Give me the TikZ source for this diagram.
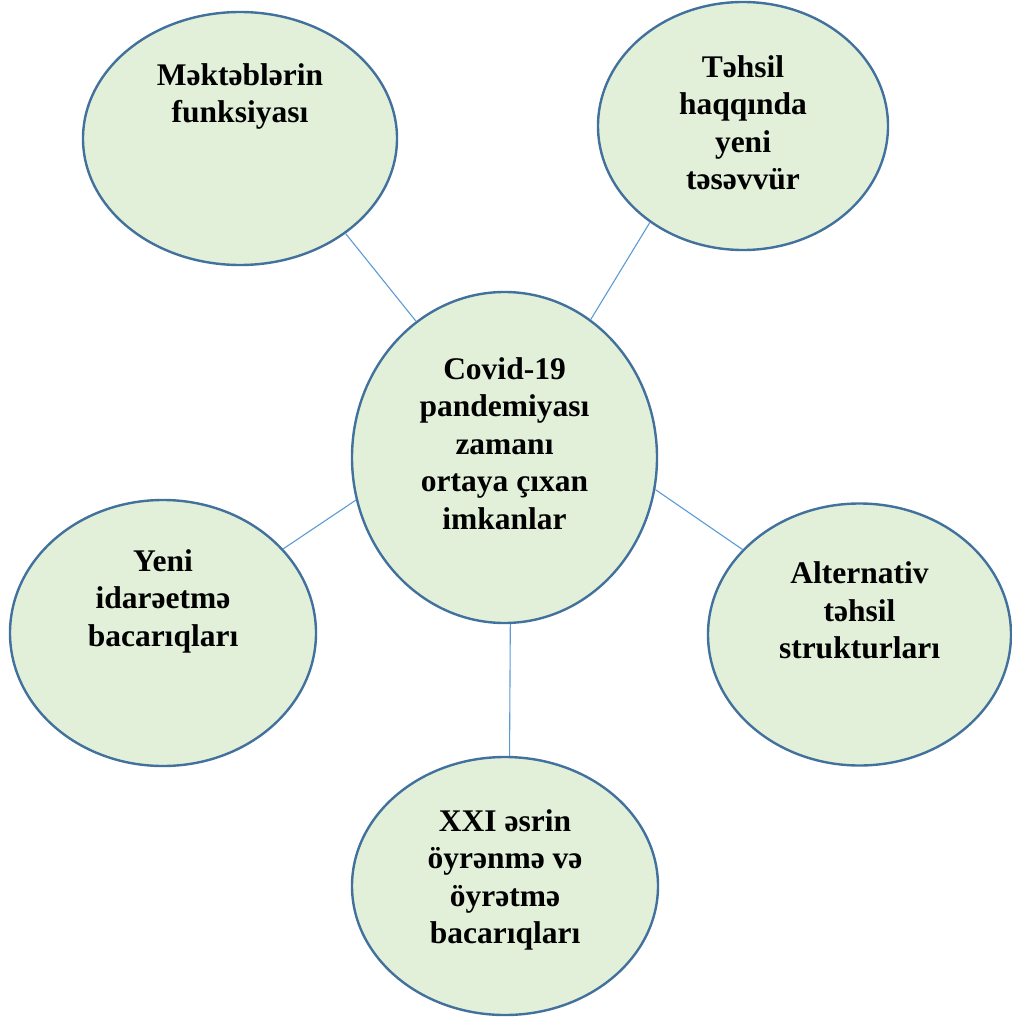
\documentclass[tikz,border=0pt]{standalone}
\usepackage{fontspec}
\setmainfont{Liberation Serif}
\usepackage{xcolor}
\usetikzlibrary{shapes.geometric}
\definecolor{bubblefill}{HTML}{E2F0D9}
\definecolor{bubbleline}{HTML}{41719C}
\definecolor{spoke}{HTML}{5B9BD5}

\begin{document}
\begin{tikzpicture}[x=1pt,y=1pt]
\tikzstyle{bubble} = [ellipse,fill=bubblefill,draw=bubbleline,line width=2.4pt,inner sep=0pt];
\tikzstyle{txt} = [align=center,font=\fontsize{31.5}{37.5}\selectfont\bfseries];
\tikzstyle{link} = [draw=spoke,line width=1.1pt];

    \useasboundingbox (0,0) rectangle (1011,-1019);

    % bubbles
    \node (c)  at (504.5,-457.5) [bubble, minimum width=305, minimum height=331] {};
    \node (tl) at (240,-138.5)   [bubble, minimum width=314, minimum height=253] {};
    \node (tr) at (743,-126)     [bubble, minimum width=290, minimum height=248] {};
    \node (l)  at (163,-633)     [bubble, minimum width=306, minimum height=266] {};
    \node (r)  at (859.5,-634.5) [bubble, minimum width=303, minimum height=262] {};
    \node (b)  at (505,-886)     [bubble, minimum width=306, minimum height=258] {};

    % texts
    \node (ct)  at ([yshift=14]c.center)  [txt] {Covid-19\\pandemiyası\\zamanı\\ortaya çıxan\\imkanlar};
    \node (tlt) at ([yshift=42]tl.center) [txt] {Məktəblərin\\funksiyası};
    \node (trt) at ([yshift=3]tr.center)  [txt] {Təhsil\\haqqında\\yeni\\təsəvvür};
    \node (lt)  at ([yshift=32]l.center)  [txt] {Yeni\\idarəetmə\\bacarıqları};
    \node (rt)  at ([yshift=24]r.center)  [txt] {Alternativ\\təhsil\\strukturları};
    \node (bt)  at ([yshift=6]b.center)   [txt] {XXI əsrin\\öyrənmə və\\öyrətmə\\bacarıqları};

    % spokes
    \foreach \from/\to in {123.4/tl.318.8, 58.7/tr.226.8, 196/l.35, 348.6/r.144.5, 272.6/b.88.2} {
        \draw[link] (c.\from) -- (\to);
    }

\end{tikzpicture}
\end{document}
